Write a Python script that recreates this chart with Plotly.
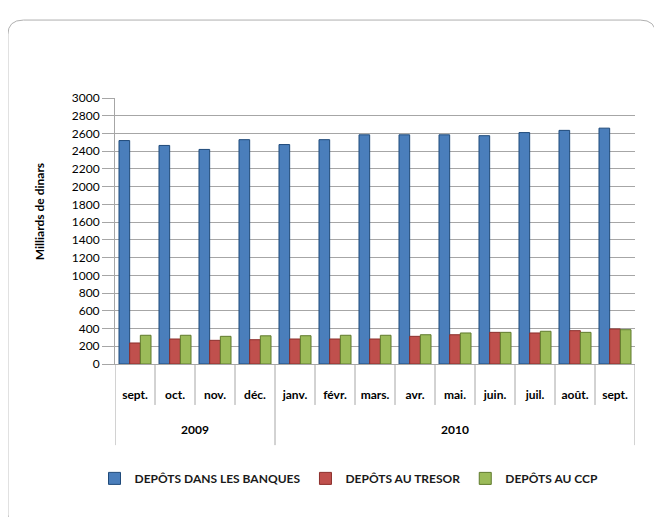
import plotly.graph_objects as go

years = ["2009", "2010"]
year_counts = [4, 9]
months = ["sept.", "oct.", "nov.", "déc.", "janv.", "févr.", "mars.", "avr.", "mai.",
          "juin.", "juil.", "août.", "sept."]

banques = [2520, 2465, 2420, 2530, 2475, 2530, 2585, 2585, 2585, 2575, 2610, 2635, 2660]
tresor = [237, 282, 267, 274, 282, 282, 282, 312, 330, 357, 350, 376, 395]
ccp = [324, 324, 312, 318, 319, 324, 324, 330, 350, 357, 369, 357, 387]

series_names = ["DEPÔTS DANS LES BANQUES", "DEPÔTS AU TRESOR", "DEPÔTS AU CCP"]
y_title = "Milliards de dinars"
colors = ["#4a7ebb", "#c0504d", "#9bbb59"]
edge_colors = ["#1f4a7a", "#8c2e2b", "#5f7a2c"]

y_ticks = list(range(0, 3001, 200))

FONT = "Lato, Liberation Sans, Arial, sans-serif"
GRAY = "#a6a6a6"

idx = list(range(len(months)))

fig = go.Figure()
for name, vals, c, ec in zip(series_names, [banques, tresor, ccp], colors, edge_colors):
    fig.add_trace(go.Bar(
        x=idx, y=vals, name=name,
        marker=dict(color=c, line=dict(color=ec, width=1)),
    ))

shapes = []
# Outer rounded frame (paper coordinates)
x0, x1 = -0.206, 1.040
y0, y1 = -0.62, 1.293
rx, ry = 0.03, 0.055
path = (f"M {x0+rx},{y1} L {x1-rx},{y1} Q {x1},{y1} {x1},{y1-ry} "
        f"L {x1},{y0+ry} Q {x1},{y0} {x1-rx},{y0} L {x0+rx},{y0} "
        f"Q {x0},{y0} {x0},{y0+ry} L {x0},{y1-ry} Q {x0},{y1} {x0+rx},{y1} Z")
shapes.append(dict(type="path", path=path, xref="paper", yref="paper",
                   line=dict(color="#b0b0b0", width=1), fillcolor="rgba(0,0,0,0)", layer="below"))

# Category dividers under the axis
year_bounds = [-0.5]
for n in year_counts:
    year_bounds.append(year_bounds[-1] + n)
for k in range(len(months) + 1):
    xb = k - 0.5
    long = xb in year_bounds
    shapes.append(dict(type="line", xref="x", yref="paper", x0=xb, x1=xb,
                       y0=0, y1=-0.305 if long else -0.154,
                       line=dict(color=GRAY, width=1)))

annotations = []
for i, (yr, n) in enumerate(zip(years, year_counts)):
    center = (year_bounds[i] + year_bounds[i + 1]) / 2
    annotations.append(dict(x=center, y=-0.248, xref="x", yref="paper", text=f"<b>{yr}</b>",
                            showarrow=False, font=dict(family=FONT, size=12, color="#000000"),
                            yanchor="middle"))
annotations.append(dict(x=-0.146, y=0.571, xref="paper", yref="paper", text=f"<b>{y_title}</b>",
                        showarrow=False, textangle=-90, xanchor="center", yanchor="middle",
                        font=dict(family=FONT, size=12, color="#000000")))

fig.update_layout(
    width=662, height=517,
    margin=dict(l=107, r=35, t=90, b=161),
    paper_bgcolor="white", plot_bgcolor="white",
    barmode="group", bargap=0.2, bargroupgap=0,
    font=dict(family=FONT, size=12, color="#000000"),
    showlegend=True,
    legend=dict(orientation="h", x=0.45, xanchor="center", y=-0.43, yanchor="middle",
                font=dict(family=FONT, size=12, color="#1a1a1a", weight="bold"),
                itemwidth=30, traceorder="normal"),
    shapes=shapes,
    annotations=annotations,
)

fig.update_yaxes(
    range=[0, 3000], tickvals=y_ticks, ticktext=[str(v) for v in y_ticks],
    showgrid=True, gridcolor=GRAY, gridwidth=1,
    showline=True, linecolor=GRAY, ticks="outside", ticklen=12, tickcolor=GRAY,
    tickfont=dict(family=FONT, size=12, color="#000000"),
    zeroline=False,
)
fig.update_xaxes(
    range=[-0.5, len(months) - 0.5],
    tickvals=idx, ticktext=[f"<b>{m}</b>" for m in months],
    ticks="", ticklabelstandoff=20,
    showline=True, linecolor=GRAY, showgrid=False, zeroline=False,
    tickfont=dict(family=FONT, size=12, color="#000000"),
)

fig.write_html("out.html")
